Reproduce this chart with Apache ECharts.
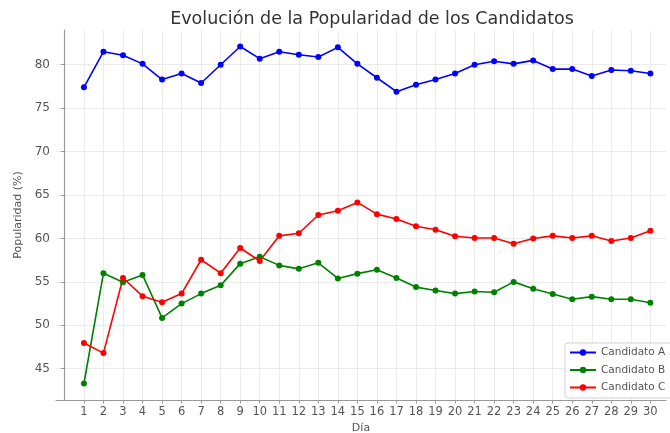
<!DOCTYPE html>
<html>
<head>
<meta charset="utf-8">
<script src="https://cdn.jsdelivr.net/npm/echarts@6/dist/echarts.min.js"></script>
<style>
  html, body { margin: 0; padding: 0; background: #fff; }
  #chart { width: 670px; height: 433px; }
</style>
</head>
<body>
<div id="chart"></div>
<script>
// días 1..30
const dias = [1,2,3,4,5,6,7,8,9,10,11,12,13,14,15,16,17,18,19,20,21,22,23,24,25,26,27,28,29,30]
const yTicks = [45, 50, 55, 60, 65, 70, 75, 80]

const candidatoA = [77.4, 81.5, 81.1, 80.1, 78.3, 79.0, 77.9, 80.0, 82.1, 80.7,
  81.5, 81.15, 80.9, 82.0, 80.1, 78.5, 76.9, 77.7, 78.3, 79.0,
  80.0, 80.4, 80.1, 80.5, 79.5, 79.5, 78.7, 79.4, 79.3, 79.0]
const candidatoB = [43.3, 56.0, 54.95, 55.8, 50.85, 52.5, 53.65, 54.6, 57.1, 57.9,
  56.9, 56.5, 57.2, 55.4, 55.95, 56.4, 55.45, 54.4, 54.0, 53.65,
  53.9, 53.8, 55.0, 54.2, 53.6, 53.0, 53.3, 53.0, 53.0, 52.6]
const candidatoC = [47.97, 46.8, 55.45, 53.35, 52.65, 53.65, 57.55, 56.0, 58.9, 57.4,
  60.3, 60.6, 62.7, 63.2, 64.15, 62.8, 62.25, 61.4, 61.0, 60.25,
  60.05, 60.05, 59.4, 60.0, 60.3, 60.05, 60.3, 59.7, 60.05, 60.9]

const nombres = ['Candidato A', 'Candidato B', 'Candidato C']
const colores = ['#0000ff', '#008000', '#ff0000']

const chart = echarts.init(document.getElementById('chart'))

const font = 'DejaVu Sans'

function serie(nombre, datos, color) {
  return {
    name: nombre,
    type: 'line',
    data: datos.map((v, i) => [dias[i], v]),
    symbol: 'circle',
    symbolSize: 6,
    lineStyle: { width: 1.6, color },
    itemStyle: { color },
    emphasis: { disabled: true },
    animation: false
  }
}

chart.setOption({
  backgroundColor: '#fff',
  textStyle: { fontFamily: font },
  title: {
    text: 'Evolución de la Popularidad de los Candidatos',
    left: 367,
    textAlign: 'center',
    top: 5,
    textStyle: { fontFamily: font, fontSize: 17.5, fontWeight: 'normal', color: '#333' }
  },
  legend: {
    orient: 'vertical',
    left: 565,
    top: 343,
    data: nombres,
    itemWidth: 26,
    itemHeight: 8,
    itemGap: 6.5,
    padding: [4, 20, 5, 4],
    borderColor: '#d0d0d0',
    borderWidth: 1,
    borderRadius: 3,
    backgroundColor: '#fff',
    textStyle: { fontFamily: font, fontSize: 10.5, color: '#555' }
  },
  grid: { left: 56, right: 4, top: 30, bottom: 33, outerBoundsMode: 'none', containLabel: false },
  xAxis: {
    type: 'value',
    min: -0.43,
    max: 30.8,
    name: 'Día',
    nameLocation: 'middle',
    nameGap: 20,
    nameTextStyle: { fontFamily: font, fontSize: 11, color: '#555' },
    axisLine: { show: true, lineStyle: { color: '#999', width: 1.2 } },
    axisTick: { show: true, length: 3.5, lineStyle: { color: '#999' }, customValues: dias },
    axisLabel: { customValues: dias, margin: 6, fontSize: 11.5, color: '#555', fontFamily: font },
    splitLine: { show: true, lineStyle: { color: '#ebebeb', width: 1 } }
  },
  yAxis: {
    type: 'value',
    min: 41.4,
    max: 84.0,
    name: 'Popularidad (%)',
    nameLocation: 'middle',
    nameGap: 32,
    nameTextStyle: { fontFamily: font, fontSize: 11, color: '#555' },
    axisLine: { show: true, lineStyle: { color: '#999', width: 1.2 } },
    axisTick: { show: true, length: 3.5, lineStyle: { color: '#999' }, customValues: yTicks },
    axisLabel: { customValues: yTicks, margin: 6, fontSize: 12, color: '#555', fontFamily: font },
    splitLine: { show: true, lineStyle: { color: '#ebebeb', width: 1 } }
  },
  series: [
    serie(nombres[0], candidatoA, colores[0]),
    serie(nombres[1], candidatoB, colores[1]),
    serie(nombres[2], candidatoC, colores[2])
  ]
})
</script>
</body>
</html>
